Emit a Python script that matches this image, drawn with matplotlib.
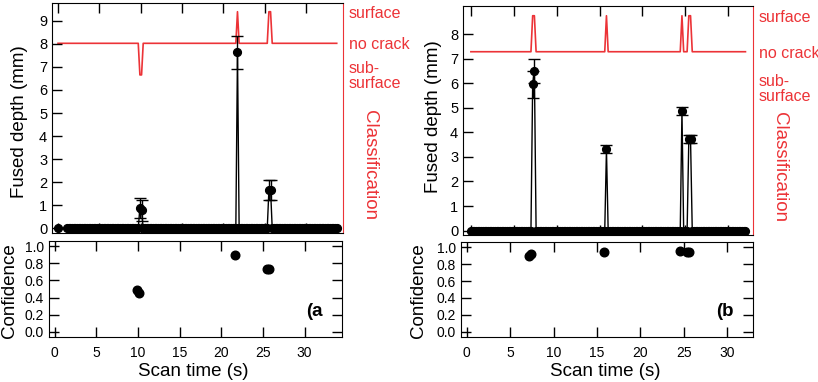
import numpy as np
import matplotlib
matplotlib.use("Agg")
import matplotlib.pyplot as plt
from matplotlib.ticker import FormatStrFormatter

plt.rcParams["font.family"] = ["Liberation Sans", "DejaVu Sans"]

RED = "#ec3337"
W, H = 818, 382

# ---- panel (a) data ----
time_a = np.round(np.concatenate([[0.0], np.arange(1.1, 33.75, 0.2)]), 1)
event_t_a = [9.9, 10.1, 21.7, 25.5, 25.7]
event_depth_a = [0.90, 0.78, 7.63, 1.66, 1.68]
event_err_a = [0.43, 0.45, 0.73, 0.43, 0.43]
event_class_a = [-1, -1, 1, 1, 1]  # -1 sub-surface, 0 no crack, 1 surface
event_conf_a = [0.49, 0.45, 0.90, 0.73, 0.73]

# ---- panel (b) data ----
time_b = np.round(np.arange(0.0, 32.05, 0.2), 1)
event_t_b = [7.2, 7.4, 15.8, 24.6, 25.4, 25.6]
event_depth_b = [5.97, 6.50, 3.32, 4.88, 3.72, 3.72]
event_err_b = [0.55, 0.50, 0.17, 0.17, 0.17, 0.17]
event_class_b = [1, 1, 1, 1, 1, 1]
event_conf_b = [0.90, 0.92, 0.94, 0.95, 0.94, 0.94]

class_ticks = [1, 0, -1]
class_labels = ["surface", "no crack", "sub-\nsurface"]


def series(times, ev_t, ev_vals):
    out = np.zeros_like(times)
    for t, v in zip(ev_t, ev_vals):
        out[np.isclose(times, t)] = v
    return out


def box(l, t, r, b):
    # pixel box -> figure fraction
    return [l / W, 1 - b / H, (r - l) / W, (b - t) / H]


def panel(fig, top_box, bot_box, times, ev_t, ev_d, ev_e, ev_c, ev_conf,
          xlim_top, xlim_bot, ylim_top, ylim_cls, ymax_tick, tag,
          lab_x, lab_y, cls_x, cls_y, conf_x, scan_x):
    depth = series(times, ev_t, ev_d)
    cls = series(times, ev_t, ev_c)

    ax = fig.add_axes(box(*top_box))
    tw = ax.twinx()
    ax.set_zorder(tw.get_zorder() + 1)
    ax.patch.set_visible(False)

    tw.plot(times, cls, color=RED, lw=1.2)
    tw.set_ylim(*ylim_cls)
    tw.set_yticks(class_ticks)
    tw.set_yticklabels(class_labels)
    tw.tick_params(axis="y", length=0, pad=4, labelcolor=RED, labelsize=11.5)
    for lbl in tw.get_yticklabels():
        lbl.set_linespacing(0.95)
    for s in ["left", "top", "bottom"]:
        tw.spines[s].set_visible(False)
    tw.spines["right"].set_color(RED)

    ax.plot(times, depth, "-o", color="k", ms=5.6, lw=1.0)
    ax.errorbar(ev_t, ev_d, yerr=ev_e, fmt="none", ecolor="k",
                elinewidth=1.0, capsize=4, capthick=1.0)
    ax.set_xlim(*xlim_top)
    ax.set_ylim(*ylim_top)
    ax.set_xticks(range(0, 35, 5))
    ax.set_yticks(range(0, ymax_tick + 1))
    ax.tick_params(direction="in", length=7.5, width=1, top=True,
                   bottom=True, right=False, labelbottom=False, labelsize=10.5)
    ax.spines["right"].set_visible(False)

    bx = fig.add_axes(box(*bot_box))
    bx.plot(ev_t, ev_conf, "o", color="k", ms=6.2)
    bx.set_xlim(*xlim_bot)
    bx.set_ylim(-0.062, 1.062)
    bx.set_xticks(range(0, 35, 5))
    bx.set_yticks(np.arange(0, 1.01, 0.2))
    bx.yaxis.set_major_formatter(FormatStrFormatter("%.1f"))
    bx.tick_params(direction="in", length=7, width=1, top=True,
                   right=True, labelsize=10)
    bx.tick_params(axis="x", pad=6.5)
    bx.text(0.905, 0.27, tag, transform=bx.transAxes, ha="center",
            va="center", fontsize=13.5, fontweight="bold")

    fig.text(lab_x / W, 1 - lab_y / H, "Fused depth (mm)", rotation=90,
             ha="center", va="center", fontsize=13.5)
    fig.text(cls_x / W, 1 - cls_y / H, "Classification", rotation=270,
             ha="center", va="center", fontsize=13.5, color=RED)
    fig.text(conf_x / W, 1 - 291 / H, "Confidence", rotation=90,
             ha="center", va="center", fontsize=13.5)
    fig.text(scan_x / W, 1 - 371 / H, "Scan time (s)",
             ha="center", va="center", fontsize=13.5)


fig = plt.figure(figsize=(W / 100, H / 100), dpi=100)

panel(fig, (52, 3, 343, 233), (49, 241, 342, 337), time_a,
      event_t_a, event_depth_a, event_err_a, event_class_a, event_conf_a,
      (-0.73, 34.46), (-0.67, 34.5), (-0.20, 9.77), (-6.0, 1.275), 9, "(a",
      20, 122, 369, 165, 10, 193)

panel(fig, (463, 6, 753, 235), (461, 242, 753, 337), time_b,
      event_t_b, event_depth_b, event_err_b, event_class_b, event_conf_b,
      (-0.92, 32.88), (-0.67, 33.0), (-0.18, 9.15), (-5.09, 1.27), 8, "(b",
      433, 117, 779, 167, 419, 605)

fig.savefig("out.png", dpi=100)
